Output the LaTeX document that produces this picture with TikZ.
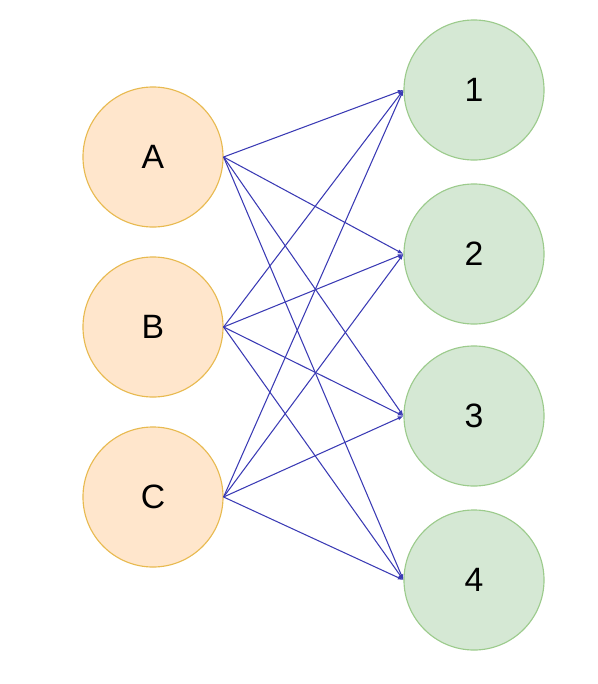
\documentclass[tikz,border=0pt]{standalone}
\usepackage{fontspec}
\setmainfont{Liberation Sans}
\usepackage{xcolor}
\usetikzlibrary{calc, arrows.meta, positioning}

\definecolor{orfill}{HTML}{FFE6CC}
\definecolor{ordraw}{HTML}{E8BA50}
\definecolor{grfill}{HTML}{D5E8D4}
\definecolor{grdraw}{HTML}{9CCB8C}
\definecolor{edgeblue}{HTML}{3A3AB4}

\begin{document}
\begin{tikzpicture}[x=0.025cm, y=0.025cm, >={Latex[length=4pt,width=3pt]},
    leftnode/.style={circle, draw=ordraw, fill=orfill, line width=0.8pt,
        minimum size=3.5cm, inner sep=0pt, font=\fontsize{24}{28}\selectfont},
    rightnode/.style={circle, draw=grdraw, fill=grfill, line width=0.8pt,
        minimum size=3.5cm, inner sep=0pt, font=\fontsize{24}{28}\selectfont},
    link/.style={->, draw=edgeblue, line width=0.75pt}]
    \useasboundingbox (0,0) rectangle (598,-684);

    % Cột trái
    \node[leftnode] (A) at (153,-157) {A};
    \node[leftnode] (B) at (153,-327) {B};
    \node[leftnode] (C) at (153,-497) {C};

    % Cột phải
    \node[rightnode] (n1) at (474,-90) {1};
    \node[rightnode] (n2) at (474,-254) {2};
    \node[rightnode] (n3) at (474,-416) {3};
    \node[rightnode] (n4) at (474,-580) {4};

    % Các cạnh nối
    \foreach \s in {A,B,C}
        \foreach \t in {n1,n2,n3,n4}
            \draw[link] (\s.east) -- (\t.west);
\end{tikzpicture}
\end{document}
